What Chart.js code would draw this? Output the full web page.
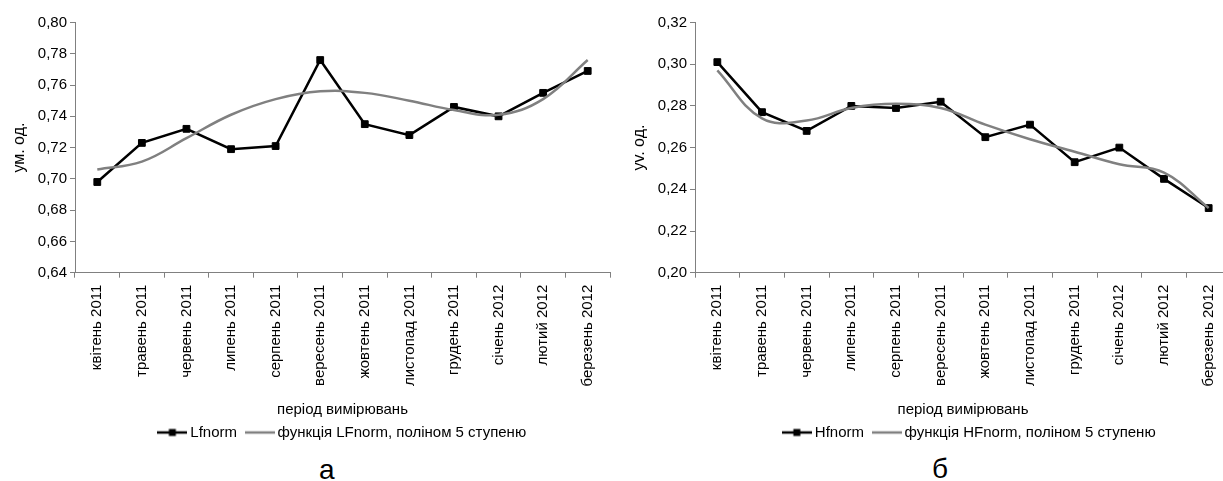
<!DOCTYPE html>
<html><head><meta charset="utf-8">
<script src="https://cdn.jsdelivr.net/npm/chart.js@4"></script>
<style>
html,body{margin:0;padding:0;width:1223px;height:481px;overflow:hidden;background:#fff;font-family:"Liberation Sans",Arial,sans-serif;}
#ca{position:absolute;left:0;top:0;}
#cb{position:absolute;left:620px;top:0;}
.lt{position:absolute;font-size:28px;line-height:28px;color:#000;font-family:"Liberation Sans",Arial,sans-serif;}
</style></head><body>
<canvas id="ca" width="688" height="450"></canvas>
<canvas id="cb" width="702" height="450"></canvas>
<div class="lt" style="left:319px;top:456px;">а</div>
<div class="lt" style="left:932px;top:455px;">б</div>
<script>
const months = ['квітень 2011','травень 2011','червень 2011','липень 2011','серпень 2011','вересень 2011','жовтень 2011','листопад 2011','грудень 2011','січень 2012','лютий 2012','березень 2012'];
const lfnorm  = [0.698,0.723,0.732,0.719,0.721,0.776,0.735,0.728,0.746,0.740,0.755,0.769];
const lfTrend = [0.706,0.711,0.726,0.741,0.751,0.756,0.755,0.750,0.744,0.741,0.751,0.776];
const hfnorm  = [0.301,0.277,0.268,0.280,0.279,0.282,0.265,0.271,0.253,0.260,0.245,0.231];
const hfTrend = [0.297,0.274,0.273,0.279,0.281,0.279,0.271,0.264,0.258,0.252,0.248,0.231];
const yRangeA = [0.64, 0.80];
const yRangeB = [0.20, 0.32];
const yStep = 0.02;
const namesA = ['Lfnorm','функція LFnorm, поліном 5 ступеню'];
const namesB = ['Hfnorm','функція HFnorm, поліном 5 ступеню'];
const xTitle = 'період вимірювань';
const yTitleA = 'ум. од.';
const yTitleB = 'уv. од.';

Chart.defaults.font.family = "'Liberation Sans', Arial, sans-serif";
Chart.defaults.color = '#000';

function symbol(withMarker, color){
  const c = document.createElement('canvas');
  c.width = 30; c.height = 10;
  const g = c.getContext('2d');
  g.strokeStyle = color; g.lineWidth = 2.5;
  g.beginPath(); g.moveTo(0,5); g.lineTo(30,5); g.stroke();
  if (withMarker){ g.fillStyle = color; g.fillRect(11.5,1.5,7,7); }
  return c;
}
const symMain = symbol(true,'#000');
const symTrend = symbol(false,'#808080');

function makeChart(id, names, data, trend, yr, yTitle, rightPad){
  return new Chart(document.getElementById(id), {
    type:'line',
    data:{ labels: months, datasets:[
      {label:names[0], data:data, borderColor:'#000', backgroundColor:'#000', borderWidth:2.5,
       pointStyle:'rect', pointRadius:4.8, pointBorderWidth:1, pointBackgroundColor:'#000', pointBorderColor:'#000',
       tension:0, order:1},
      {label:names[1], data:trend, borderColor:'#808080', backgroundColor:'#808080', borderWidth:2.5,
       pointRadius:0, tension:0.4, order:0}
    ]},
    options:{
      responsive:false, animation:false, devicePixelRatio:1,
      layout:{padding:{top:22.5,left:0,right:0,bottom:0}},
      plugins:{
        tooltip:{enabled:false},
        title:{display:false},
        legend:{position:'bottom', labels:{usePointStyle:true, pointStyleWidth:21, padding:12, color:'#000', font:{size:15},
          generateLabels(){ return [
            {text:names[0], pointStyle:symMain, fontColor:'#000', lineWidth:0, hidden:false, datasetIndex:0},
            {text:names[1], pointStyle:symTrend, fontColor:'#000', lineWidth:0, hidden:false, datasetIndex:1}
          ]; } }}
      },
      scales:{
        x:{ offset:true,
            grid:{offset:true, drawOnChartArea:false, tickLength:5, color:'#808080', lineWidth:1},
            border:{color:'#808080', width:1},
            ticks:{autoSkip:false, minRotation:90, maxRotation:90, padding:7, color:'#000', font:{size:15}},
            title:{display:true, text:xTitle, color:'#000', font:{size:15}, padding:{top:0,bottom:-6}},
            afterFit(s){ s.height = 140.3; } },
        y:{ min:yr[0], max:yr[1],
            grid:{drawOnChartArea:false, tickLength:5, color:'#808080', lineWidth:1},
            border:{color:'#808080', width:1},
            ticks:{stepSize:yStep, padding:3, color:'#000', font:{size:15}, callback:v=>v.toFixed(2).replace('.',',')},
            title:{display:true, text:yTitle, color:'#000', font:{size:16}, padding:{top:9.5,bottom:0}},
            afterFit(s){ s.width = 75; } },
        yR:{ position:'right', display:true, grid:{display:false}, border:{display:false}, ticks:{display:false},
             afterFit(s){ s.width = rightPad; } }
      }
    }
  });
}
makeChart('ca', namesA, lfnorm, lfTrend, yRangeA, yTitleA, 78);
makeChart('cb', namesB, hfnorm, hfTrend, yRangeB, yTitleB, 91);
</script>
</body></html>
